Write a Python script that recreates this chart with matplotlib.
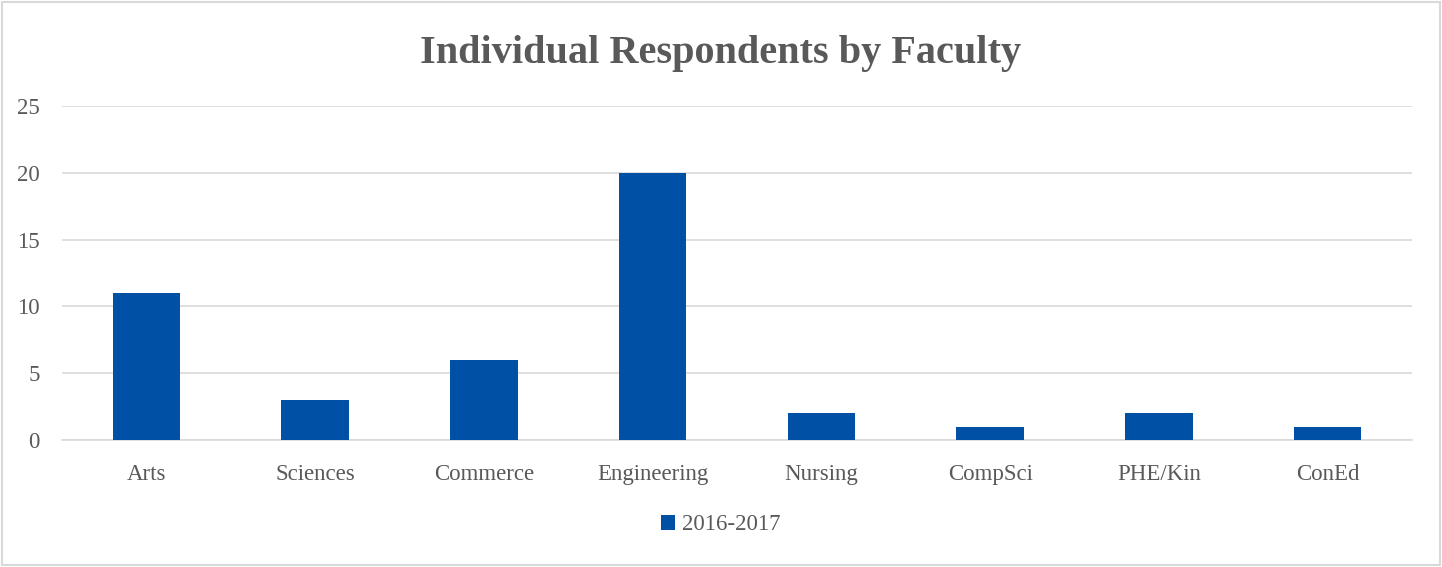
import matplotlib
matplotlib.use("Agg")
import matplotlib.pyplot as plt
from matplotlib.patches import Rectangle

categories = ["Arts", "Sciences", "Commerce", "Engineering", "Nursing", "CompSci", "PHE/Kin", "ConEd"]
values = [11, 3, 6, 20, 2, 1, 2, 1]
series_name = "2016-2017"
yticks = [0, 5, 10, 15, 20, 25]

plt.rcParams['font.family'] = ['Liberation Serif', 'DejaVu Serif']
text_col = '#595959'
bar_col = '#0050A6'
grid_col = '#D9D9D9'

fig = plt.figure(figsize=(14.42, 5.67), dpi=100)
fig.patches.append(Rectangle((2/1442, 2/567), 1 - 4/1442, 1 - 4/567, transform=fig.transFigure,
                             fill=False, edgecolor='#D9D9D9', linewidth=1.5))
ax = fig.add_axes([62/1442, (567-440)/567, 1350/1442, 334/567])
x = range(len(categories))
ax.bar(x, values, width=0.4, color=bar_col, label=series_name, zorder=3)
ax.set_xlim(-0.5, len(categories) - 0.5)
ax.set_ylim(0, 25)
ax.set_yticks(yticks)
ax.set_xticks(list(x))
ax.set_xticklabels(categories)
ax.yaxis.grid(True, color=grid_col, linewidth=1.2, zorder=0)
for s in ['top', 'right', 'left']:
    ax.spines[s].set_visible(False)
ax.spines['bottom'].set_color(grid_col)
ax.spines['bottom'].set_linewidth(1.2)
ax.tick_params(axis='both', length=0, labelsize=16.5, labelcolor=text_col)
ax.tick_params(axis='x', pad=17)
ax.tick_params(axis='y', pad=16)

fig.text(0.5, 1 - 53/567, "Individual Respondents by Faculty", ha='center', va='center',
         fontsize=29, fontweight='bold', color=text_col)
leg = fig.legend(loc='center', bbox_to_anchor=(0.5, 1 - 525/567), frameon=False,
                 fontsize=16.5, handlelength=0.6, handleheight=0.6, handletextpad=0.3)
for t in leg.get_texts():
    t.set_color(text_col)

fig.savefig("out.png", dpi=100)
